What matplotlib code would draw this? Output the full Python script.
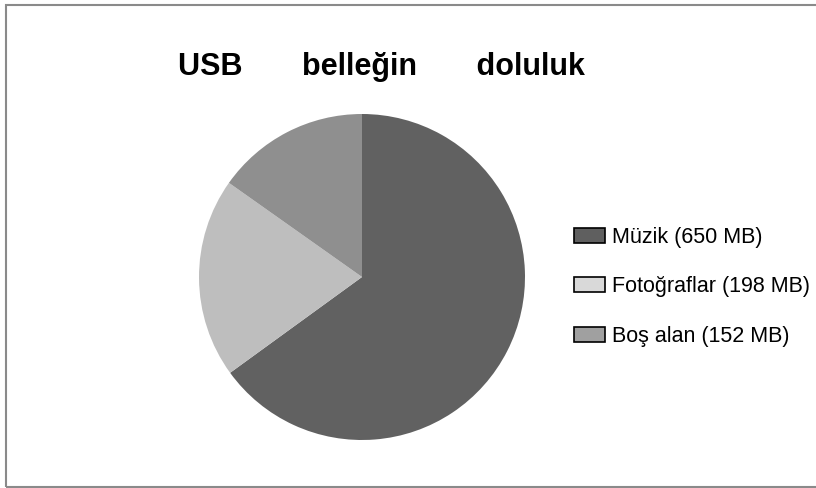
import matplotlib.pyplot as plt
from matplotlib.patches import Patch, Rectangle

plt.rcParams['font.family'] = ['Liberation Sans', 'DejaVu Sans']

labels = ['Müzik', 'Fotoğraflar', 'Boş alan']
sizes_mb = [650, 198, 152]
pie_colors = ['#616161', '#bebebe', '#8f8f8f']
swatch_colors = ['#5f5f5f', '#d9d9d9', '#a0a0a0']

W, H = 816, 488
fig = plt.figure(figsize=(W / 100, H / 100), dpi=100)

# outer frame of the chart area
fig.patches.append(Rectangle((6 / W, 1 / H), 1.2, (H - 6) / H, transform=fig.transFigure,
                             fill=False, edgecolor='#8a8a8a', linewidth=1.5))

# pie centred at (362, 277) px, radius 163 px
cx, cy, r = 362, 277, 163
ax = fig.add_axes([(cx - r) / W, (H - cy - r) / H, 2 * r / W, 2 * r / H])
ax.pie(sizes_mb, colors=pie_colors, startangle=90, counterclock=False,
       radius=1.0, wedgeprops=dict(linewidth=0))
ax.set_xlim(-1, 1)
ax.set_ylim(-1, 1)
ax.set_aspect('equal')
ax.axis('off')

fig.text(381 / W, 1 - 67 / H, 'USB       belleğin       doluluk', ha='center', va='center',
         fontsize=22, fontweight='bold')

handles = [Patch(facecolor=c, edgecolor='black', linewidth=1.2) for c in swatch_colors]
leg_labels = [f'{l} ({v} MB)' for l, v in zip(labels, sizes_mb)]
fig.legend(handles, leg_labels, loc='upper left', bbox_to_anchor=(574 / W, 1 - 227 / H),
           frameon=False, fontsize=15.5, labelspacing=1.32, handlelength=1.45,
           handleheight=0.7, handletextpad=0.3, borderaxespad=0, borderpad=0)

fig.savefig('out.png', dpi=100)
